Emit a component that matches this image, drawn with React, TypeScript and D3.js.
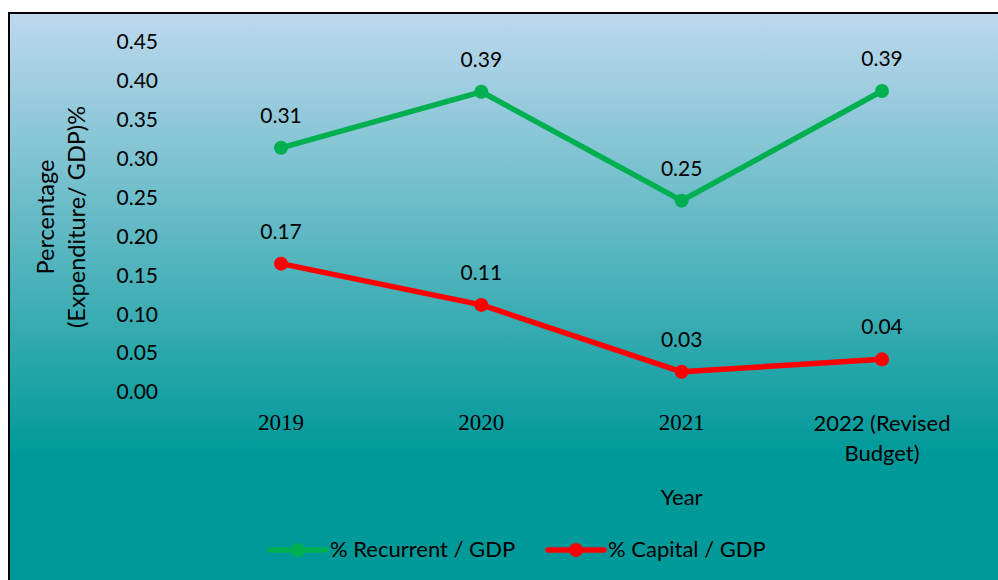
import React from 'react';
import * as d3 from 'd3';

const years = ['2019', '2020', '2021', '2022 (Revised Budget)'];
const recurrent = [0.314, 0.386, 0.246, 0.387];
const capital = [0.165, 0.112, 0.026, 0.042];
const yTicks = [0, 0.05, 0.1, 0.15, 0.2, 0.25, 0.3, 0.35, 0.4, 0.45];
const seriesNames = ['% Recurrent / GDP', '% Capital / GDP'];
const seriesColors = ['#00B050', '#FF0000'];

const W = 998, H = 580;
const sans = 'Lato, "Open Sans", sans-serif';

export default function App() {
    // scales
    const x = d3.scalePoint<string>().domain(years).range([281, 882]);
    const y = d3.scaleLinear().domain([0, 0.45]).range([392, 42]);
    const line = d3.line<number>()
        .x((d, i) => x(years[i]) as number)
        .y(d => y(d));
    const fmt = d3.format('.2f');
    const series = [recurrent, capital];

    return (
        <svg width={W} height={H} style={{ position: 'absolute', left: 0, top: 0 }}>
            <defs>
                <linearGradient id="bg" x1="0" y1="0" x2="0" y2="1">
                    <stop offset="0" stopColor="#BED8EE" />
                    <stop offset="0.76" stopColor="#009999" />
                    <stop offset="1" stopColor="#009999" />
                </linearGradient>
            </defs>
            <rect x={0} y={0} width={W} height={H} fill="#fff" />
            <rect x={9} y={13} width={1000} height={580} fill="url(#bg)" stroke="#000" strokeWidth={2} />

            {/* y axis labels */}
            <g fontFamily={sans} fontSize={21} fill="#000">
                {yTicks.map(t => (
                    <text key={t} x={158} y={y(t)} dy="0.35em" textAnchor="end">{fmt(t)}</text>
                ))}
            </g>
            <text transform="translate(54,217) rotate(-90)" textAnchor="middle" fontFamily={sans} fontSize={23.5}>
                <tspan x={0} dy={0}>Percentage</tspan>
                <tspan x={0} dy={31}>(Expenditure/ GDP)%</tspan>
            </text>

            {/* x axis labels */}
            {years.map((yr, i) => {
                const cx = x(yr) as number;
                if (i < 3) {
                    return <text key={yr} x={cx} y={430} textAnchor="middle" fontFamily='"Liberation Serif", serif' fontSize={23}>{yr}</text>;
                }
                return (
                    <text key={yr} x={cx} y={431} textAnchor="middle" fontFamily={sans} fontSize={22}>
                        <tspan x={cx} dy={0}>2022 (Revised</tspan>
                        <tspan x={cx} dy={30}>Budget)</tspan>
                    </text>
                );
            })}
            <text x={x('2021')} y={505} textAnchor="middle" fontFamily={sans} fontSize={22}>Year</text>

            {/* lines */}
            {series.map((s, k) => (
                <g key={k}>
                    <path d={line(s) || ''} fill="none" stroke={seriesColors[k]} strokeWidth={5.5} strokeLinejoin="round" />
                    {s.map((v, i) => (
                        <circle key={i} cx={x(years[i])} cy={y(v)} r={7} fill={seriesColors[k]} />
                    ))}
                    {s.map((v, i) => (
                        <text key={'l' + i} x={x(years[i])} y={y(v) - 25} textAnchor="middle" fontFamily={sans} fontSize={21}>{fmt(v)}</text>
                    ))}
                </g>
            ))}

            {/* legend */}
            {seriesNames.map((name, k) => {
                const lx = k === 0 ? 270 : 548;
                return (
                    <g key={name}>
                        <line x1={lx} x2={lx + 56} y1={550} y2={550} stroke={seriesColors[k]} strokeWidth={5.5} strokeLinecap="round" />
                        <circle cx={lx + 28} cy={550} r={7} fill={seriesColors[k]} />
                        <text x={lx + 60} y={557} fontFamily={sans} fontSize={22}>{name}</text>
                    </g>
                );
            })}
        </svg>
    );
}
